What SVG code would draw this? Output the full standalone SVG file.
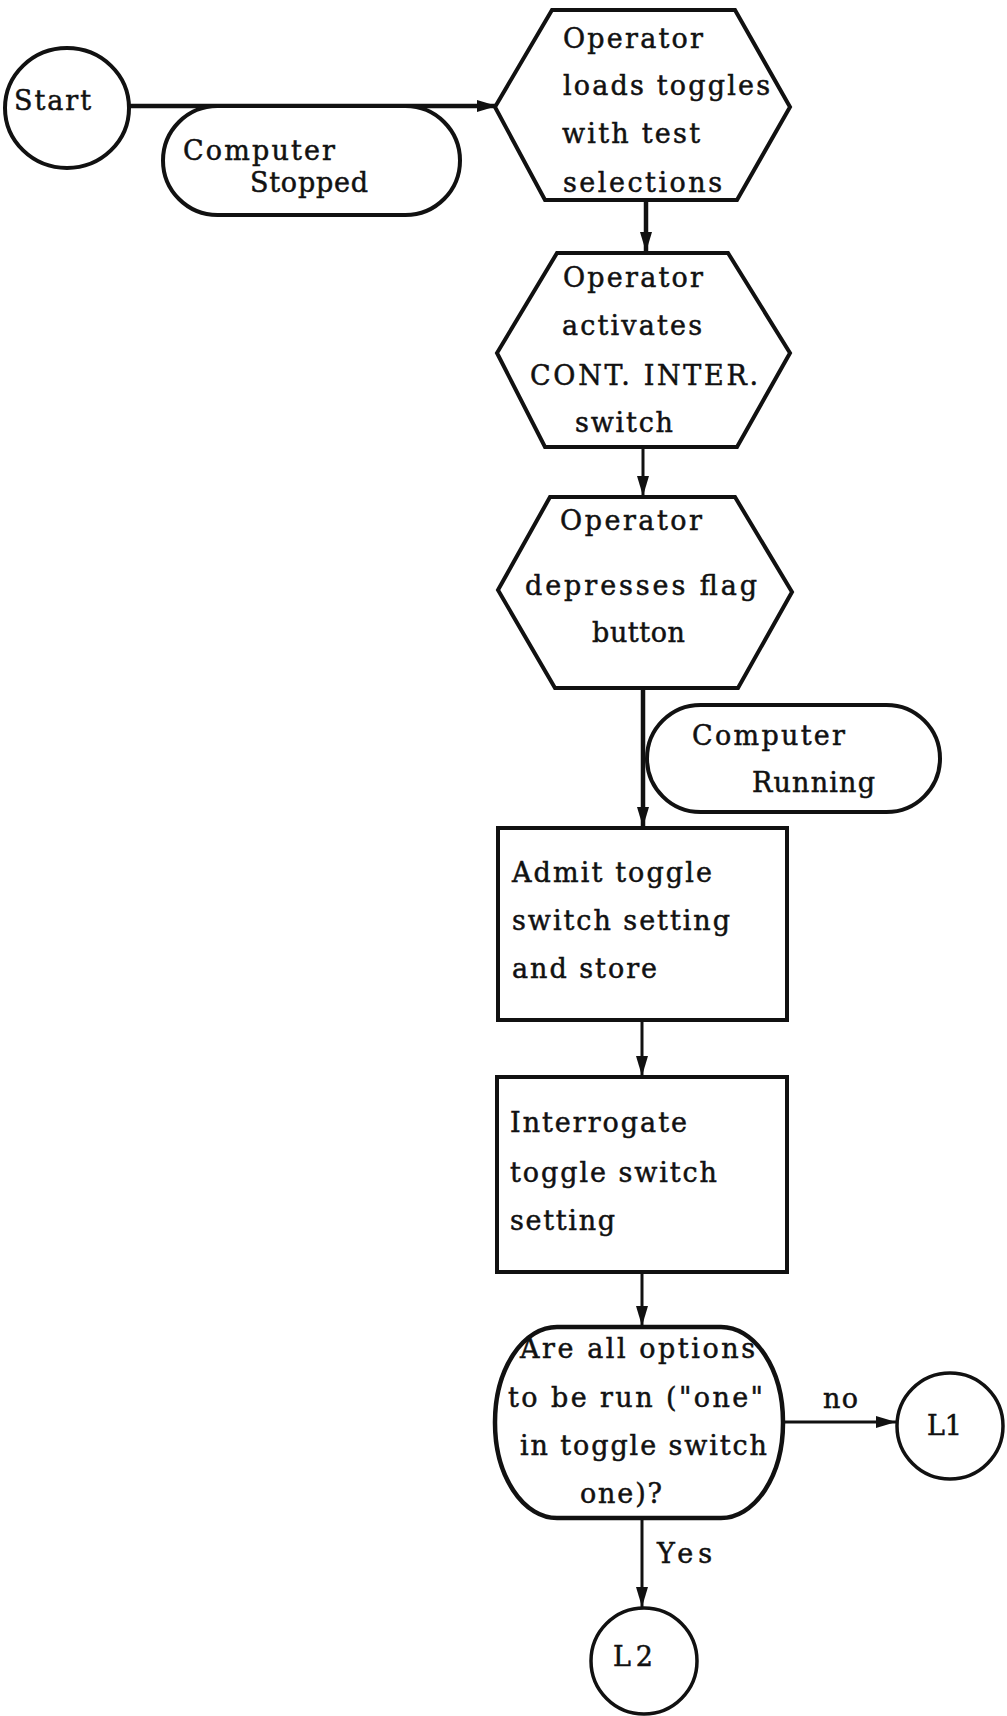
<svg xmlns="http://www.w3.org/2000/svg" width="1007" height="1716" viewBox="0 0 1007 1716">
<style>
.bg{fill:#ffffff}
.shape{fill:#ffffff;stroke:#111111;stroke-width:4}
.t{font-family:"DejaVu Serif","Liberation Serif",serif;font-size:27px;fill:#111111;stroke:#111111;stroke-width:0.5}
.ln{stroke:#111111;fill:none}
.thick{stroke-width:4.5}
.thin{stroke-width:3}
</style>
<defs>
<marker id="arr" markerUnits="userSpaceOnUse" markerWidth="20" markerHeight="12" refX="20" refY="6" orient="auto">
<path d="M0,0 L20,6 L0,12 z" fill="#111111"/>
</marker>
</defs>
<rect class="bg" x="0" y="0" width="1007" height="1716"/>
<g id="connectors">
<line class="ln thick" x1="130" y1="106" x2="497" y2="106" marker-end="url(#arr)"/>
<line class="ln thick" x1="646" y1="200" x2="646" y2="252" marker-end="url(#arr)"/>
<line class="ln thin" x1="643" y1="447" x2="643" y2="496" marker-end="url(#arr)"/>
<line class="ln thick" x1="643" y1="688" x2="643" y2="827" marker-end="url(#arr)"/>
<line class="ln thin" x1="642" y1="1020" x2="642" y2="1076" marker-end="url(#arr)"/>
<line class="ln thin" x1="642" y1="1272" x2="642" y2="1326" marker-end="url(#arr)"/>
<line class="ln thin" x1="783" y1="1422" x2="896" y2="1422" marker-end="url(#arr)"/>
<line class="ln thin" x1="642" y1="1518" x2="642" y2="1607" marker-end="url(#arr)"/>
<text class="t" x="823" y="1408" textLength="35" lengthAdjust="spacing">no</text>
<text class="t" x="657" y="1563" textLength="55" lengthAdjust="spacing">Yes</text>
</g>
<g id="start">
<ellipse class="shape" cx="67" cy="108" rx="62" ry="60"/>
<text class="t" x="14" y="110" textLength="77" lengthAdjust="spacing">Start</text>
</g>
<g id="stopped">
<rect class="shape" x="163" y="106" width="297" height="109" rx="54.5" ry="54.5"/>
<text class="t" x="183" y="160" textLength="152" lengthAdjust="spacing">Computer</text>
<text class="t" x="250" y="192" textLength="118" lengthAdjust="spacing">Stopped</text>
</g>
<g id="hex1">
<polygon class="shape" points="552,10 735,10 790,107 737,200 545,200 495,107"/>
<text class="t" x="563" y="48" textLength="140" lengthAdjust="spacing">Operator</text>
<text class="t" x="563" y="95" textLength="207" lengthAdjust="spacing">loads toggles</text>
<text class="t" x="562" y="143" textLength="138" lengthAdjust="spacing">with test</text>
<text class="t" x="563" y="192" textLength="159" lengthAdjust="spacing">selections</text>
</g>
<g id="hex2">
<polygon class="shape" points="557,253 728,253 790,353 737,447 545,447 497,353"/>
<text class="t" x="563" y="287" textLength="140" lengthAdjust="spacing">Operator</text>
<text class="t" x="562" y="335" textLength="140" lengthAdjust="spacing">activates</text>
<text class="t" x="530" y="385" textLength="228" lengthAdjust="spacing">CONT. INTER.</text>
<text class="t" x="575" y="432" textLength="98" lengthAdjust="spacing">switch</text>
</g>
<g id="hex3">
<polygon class="shape" points="550,497 735,497 792,592 738,688 555,688 498,590"/>
<text class="t" x="560" y="530" textLength="142" lengthAdjust="spacing">Operator</text>
<text class="t" x="525" y="595" textLength="232" lengthAdjust="spacing">depresses flag</text>
<text class="t" x="592" y="642" textLength="93" lengthAdjust="spacing">button</text>
</g>
<g id="running">
<rect class="shape" x="647" y="705" width="293" height="107" rx="53.5" ry="53.5"/>
<text class="t" x="692" y="745" textLength="153" lengthAdjust="spacing">Computer</text>
<text class="t" x="752" y="792" textLength="123" lengthAdjust="spacing">Running</text>
</g>
<g id="admit">
<rect class="shape" x="498" y="828" width="289" height="192"/>
<text class="t" x="512" y="882" textLength="200" lengthAdjust="spacing">Admit toggle</text>
<text class="t" x="512" y="930" textLength="218" lengthAdjust="spacing">switch setting</text>
<text class="t" x="512" y="978" textLength="145" lengthAdjust="spacing">and store</text>
</g>
<g id="interrogate">
<rect class="shape" x="497" y="1077" width="290" height="195"/>
<text class="t" x="510" y="1132" textLength="177" lengthAdjust="spacing">Interrogate</text>
<text class="t" x="510" y="1182" textLength="207" lengthAdjust="spacing">toggle switch</text>
<text class="t" x="510" y="1230" textLength="105" lengthAdjust="spacing">setting</text>
</g>
<g id="decision">
<rect class="shape" x="495" y="1327" width="288" height="191" rx="62" ry="95" style="stroke-width:4.5"/>
<text class="t" x="520" y="1358" textLength="235" lengthAdjust="spacing">Are all options</text>
<text class="t" x="508" y="1407" textLength="255" lengthAdjust="spacing">to be run ("one"</text>
<text class="t" x="520" y="1455" textLength="247" lengthAdjust="spacing">in toggle switch</text>
<text class="t" x="580" y="1503" textLength="82" lengthAdjust="spacing">one)?</text>
</g>
<g id="L1">
<circle class="shape" cx="950" cy="1426" r="53" style="stroke-width:3.5"/>
<text class="t" x="927" y="1435" textLength="35" lengthAdjust="spacing">L1</text>
</g>
<g id="L2">
<circle class="shape" cx="644" cy="1661" r="53" style="stroke-width:3.5"/>
<text class="t" x="613" y="1666" textLength="40" lengthAdjust="spacing">L2</text>
</g>
</svg>
